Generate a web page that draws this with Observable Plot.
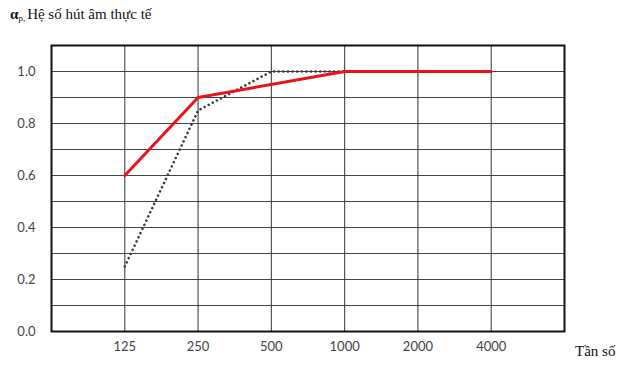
<!DOCTYPE html>
<html>
<head>
<meta charset="utf-8">
<script src="https://cdn.jsdelivr.net/npm/d3@7"></script>
<script src="https://cdn.jsdelivr.net/npm/@observablehq/plot@0.6"></script>
<style>
  body { margin: 0; background: #fff; }
  #wrap { position: relative; width: 626px; height: 367px; }
  .lbl { position: absolute; font-family: "Liberation Serif", serif; font-size: 15px; color: #111; white-space: nowrap; }
  #title { left: 10px; top: 6px; }
  #title b { font-size: 15px; }
  #title sub { font-size: 9px; vertical-align: -2px; margin-right: 2px; }
  #xlab { left: 575px; top: 343px; }
</style>
</head>
<body>
<div id="wrap">
  <div id="chart"></div>
  <div class="lbl" id="title"><b>α</b><sub>p,</sub>Hệ số hút âm thực tế</div>
  <div class="lbl" id="xlab">Tần số</div>
</div>
<script>
const frequencies = [125, 250, 500, 1000, 2000, 4000];
const freqLabels = ["125", "250", "500", "1000", "2000", "4000"];
const solidFreq = [125, 250, 1000, 4000];
const solidValues = [0.6, 0.9, 1.0, 1.0];
const dottedFreq = [125, 250, 500, 1000];
const dottedValues = [0.25, 0.85, 1.0, 1.0];
const yGrid = [0, 0.1, 0.2, 0.3, 0.4, 0.5, 0.6, 0.7, 0.8, 0.9, 1.0, 1.1];
const yTicks = [0, 0.2, 0.4, 0.6, 0.8, 1.0];

const solid = solidFreq.map((f, i) => ({f, v: solidValues[i]}));
const dotted = dottedFreq.map((f, i) => ({f, v: dottedValues[i]}));
const fmtX = d => freqLabels[frequencies.indexOf(d)];

const chart = Plot.plot({
  width: 626,
  height: 367,
  marginTop: 45,
  marginBottom: 36,
  marginLeft: 51,
  marginRight: 62,
  style: {fontFamily: "Lato, sans-serif", fontSize: "13px", color: "#444", background: "#fff"},
  x: {type: "log", base: 2, domain: [62.5, 8000], ticks: frequencies, tickFormat: fmtX, tickSize: 0, tickPadding: 10, label: null},
  y: {domain: [0, 1.1], ticks: yTicks, tickFormat: d => d.toFixed(1), tickSize: 0, tickPadding: 16, label: null},
  marks: [
    Plot.ruleY(yGrid, {stroke: "#444", strokeWidth: 1.1}),
    Plot.ruleX(frequencies, {stroke: "#444", strokeWidth: 1.1}),
    Plot.frame({stroke: "#111", strokeWidth: 2}),
    Plot.line(dotted, {x: "f", y: "v", stroke: "#3a3a3a", strokeWidth: 2.6, strokeDasharray: "0.01,4.6", strokeLinecap: "round"}),
    Plot.line(solid, {x: "f", y: "v", stroke: "#e8141b", strokeWidth: 3}),
    Plot.axisX({ticks: frequencies, tickFormat: fmtX, tickSize: 0, tickPadding: 10, label: null}),
    Plot.axisY({ticks: yTicks, tickFormat: d => d.toFixed(1), tickSize: 0, tickPadding: 16, label: null})
  ]
});
document.getElementById("chart").appendChild(chart);
</script>
</body>
</html>
